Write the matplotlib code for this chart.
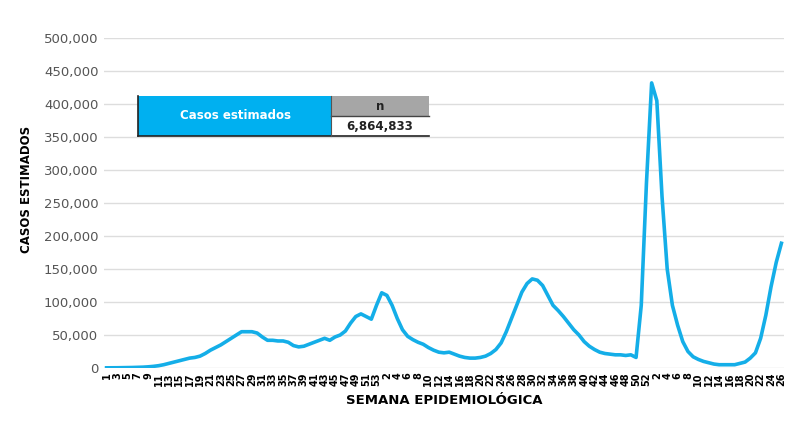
import matplotlib.pyplot as plt
from matplotlib.patches import Rectangle
from matplotlib.lines import Line2D

# weeks: 2020 (1-53), 2021 (1-52), 2022 (1-26)
weeks_2020 = list(range(1, 54))
weeks_2021 = list(range(1, 53))
weeks_2022 = list(range(1, 27))

# estimated cases (thousands)
cases_2020 = [0.3, 0.3, 0.4, 0.5, 0.6, 0.8, 1.0, 1.3, 1.8, 2.5,
              3.5, 5, 7, 9, 11, 13, 15, 16, 18, 22,
              27, 31, 35, 40, 45, 50, 55, 55, 55, 53,
              47, 42, 42, 41, 41, 39, 34, 32, 33, 36,
              39, 42, 45, 42, 47, 50, 56, 68, 78, 82,
              78, 74, 95]
cases_2021 = [114, 110, 95, 75, 58, 48, 43, 39, 36, 31,
              27, 24, 23, 24, 21, 18, 16, 15, 15, 16,
              18, 22, 28, 38, 55, 75, 95, 115, 128, 135,
              133, 125, 110, 95, 87, 78, 68, 58, 50, 40,
              33, 28, 24, 22, 21, 20, 20, 19, 20, 16,
              95, 280]
cases_2022 = [432, 405, 260, 150, 95, 65, 40, 25, 17, 13,
              10, 8, 6, 5, 5, 5, 5, 7, 9, 15,
              23, 45, 80, 123, 160, 189]

table_label = "Casos estimados"
table_header = "n"
table_value = "6,864,833"

y_ticks = [0, 50000, 100000, 150000, 200000, 250000, 300000, 350000, 400000, 450000, 500000]

weeks = weeks_2020 + weeks_2021 + weeks_2022
cases = [c * 1000 for c in cases_2020 + cases_2021 + cases_2022]
x = list(range(len(weeks)))

blue = '#14AEE8'

fig = plt.figure(figsize=(8, 4.4), dpi=100)
ax = fig.add_axes([0.13, 0.1636, 0.85, 0.75])

ax.plot(x, cases, color=blue, linewidth=2.6, solid_joinstyle='round', zorder=3)

ax.set_xlim(-0.5, len(x) - 0.5)
ax.set_ylim(0, 500000)
ax.set_yticks(y_ticks)
ax.set_yticklabels([f"{v:,}" for v in y_ticks], color='#555555', fontsize=9.5)
ax.yaxis.grid(True, color='#DDDDDD', linewidth=1)
ax.set_axisbelow(True)

ax.set_xticks(x[::2])
ax.set_xticklabels([str(w) for w in weeks[::2]], rotation=90, fontsize=7, fontweight='bold')
ax.tick_params(axis='both', length=0, pad=4)
ax.tick_params(axis='x', pad=3)

for s in ax.spines.values():
    s.set_visible(False)

ax.set_xlabel("SEMANA EPIDEMIOLÓGICA", fontsize=9.5, fontweight='bold', labelpad=6)
ax.set_ylabel("CASOS ESTIMADOS", fontsize=8.5, fontweight='bold')
ax.yaxis.set_label_coords(-0.105, 0.54)

# summary table
fig.patches.append(Rectangle((0.1725, 0.6909), 0.24125, 0.0909, transform=fig.transFigure,
                             facecolor='#00B0F0', edgecolor='none'))
fig.patches.append(Rectangle((0.41375, 0.7364), 0.1225, 0.04545, transform=fig.transFigure,
                             facecolor='#A6A6A6', edgecolor='none'))
fig.lines.append(Line2D([0.1725, 0.1725], [0.6909, 0.7818], transform=fig.transFigure, color='#222222', linewidth=1.2))
fig.lines.append(Line2D([0.1725, 0.53625], [0.6909, 0.6909], transform=fig.transFigure, color='#222222', linewidth=1.2))
fig.lines.append(Line2D([0.41375, 0.53625], [0.7364, 0.7364], transform=fig.transFigure, color='#444444', linewidth=1))
fig.lines.append(Line2D([0.41375, 0.41375], [0.6909, 0.7818], transform=fig.transFigure, color='#555555', linewidth=0.8))

fig.text(0.294, 0.7375, table_label, color='white', fontsize=8.5, fontweight='bold', ha='center', va='center')
fig.text(0.475, 0.759, table_header, color='#222222', fontsize=8.5, fontweight='bold', ha='center', va='center')
fig.text(0.475, 0.7125, table_value, color='#222222', fontsize=8.5, fontweight='bold', ha='center', va='center')

fig.savefig('out.png', dpi=100)
